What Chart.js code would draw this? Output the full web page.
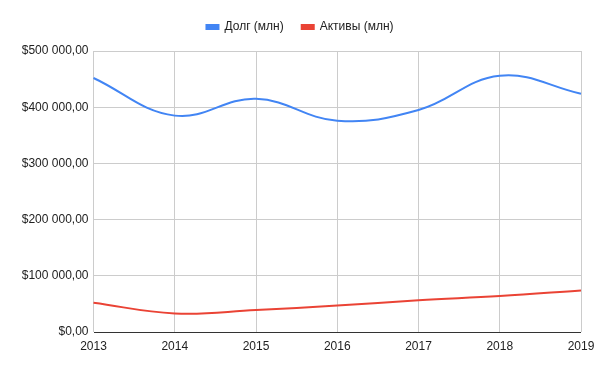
<!DOCTYPE html>
<html>
<head>
<meta charset="utf-8">
<script src="https://cdn.jsdelivr.net/npm/chart.js@4/dist/chart.umd.min.js"></script>
<style>
    html, body { margin: 0; padding: 0; background: #fff; }
    #wrap { width: 600px; height: 371px; }
</style>
</head>
<body>
<div id="wrap"><canvas id="debt-chart" width="600" height="371"></canvas></div>
<script>
var years = ['2013', '2014', '2015', '2016', '2017', '2018', '2019'];
var debtValues = [452000, 385000, 415000, 376000, 395000, 456000, 424000];
var assetValues = [52000, 33000, 39000, 47000, 56500, 64000, 74000];
var yTicks = [0, 100000, 200000, 300000, 400000, 500000];

function formatMoney(value) {
    var s = String(Math.round(value)).replace(/\B(?=(\d{3})+(?!\d))/g, ' ');
    return '$' + s + ',00';
}

var FONT = 'Arial, "Liberation Sans", sans-serif';
var canvas = document.getElementById('debt-chart');

var chart = new Chart(canvas, {
    type: 'line',
    data: {
        labels: years,
        datasets: [
            {
                label: 'Долг (млн)',
                data: debtValues,
                borderColor: '#4285f4',
                backgroundColor: '#4285f4',
                borderWidth: 2,
                tension: 0.4,
                pointRadius: 0,
                fill: false
            },
            {
                label: 'Активы (млн)',
                data: assetValues,
                borderColor: '#ea4335',
                backgroundColor: '#ea4335',
                borderWidth: 2,
                tension: 0.4,
                pointRadius: 0,
                fill: false
            }
        ]
    },
    options: {
        responsive: false,
        animation: false,
        layout: { padding: { left: 0, right: 19, top: 3, bottom: 8 } },
        font: { family: FONT, size: 12 },
        plugins: {
            legend: {
                position: 'top',
                labels: {
                    boxWidth: 12,
                    boxHeight: 4,
                    padding: 18,
                    color: '#222',
                    font: { family: FONT, size: 12 }
                }
            },
            tooltip: { enabled: false }
        },
        scales: {
            x: {
                offset: false,
                afterFit: function(scale) {
                    scale.height = 31;
                    scale.paddingLeft = 0;
                    scale.paddingRight = 0;
                },
                grid: { color: '#cccccc', drawTicks: false, lineWidth: 1 },
                border: { display: false },
                ticks: {
                    color: '#222',
                    padding: 7,
                    maxRotation: 0,
                    font: { family: FONT, size: 12 }
                }
            },
            y: {
                min: 0,
                max: 500000,
                afterFit: function(scale) { scale.width = 93.5; },
                afterBuildTicks: function(scale) {
                    scale.ticks = yTicks.map(function(v) { return { value: v }; });
                },
                grid: {
                    drawTicks: false,
                    color: function(ctx) { return ctx.tick && ctx.tick.value === 0 ? '#333333' : '#cccccc'; },
                    lineWidth: 1
                },
                border: { display: false },
                ticks: {
                    color: '#222',
                    padding: 5,
                    font: { family: FONT, size: 12 },
                    callback: function(value) { return formatMoney(value); }
                }
            }
        }
    },
    plugins: [{
        id: 'legendLayout',
        beforeInit: function(c) {
            var origFit = c.legend.fit;
            c.legend.fit = function() {
                origFit.bind(c.legend)();
                this.height += 8;
            };
        },
        beforeDraw: function(c) {
            // centre the legend over the whole canvas, not the padded box
            c.legend.left = 0;
            c.legend.right = c.width;
        }
    }]
});
</script>
</body>
</html>
